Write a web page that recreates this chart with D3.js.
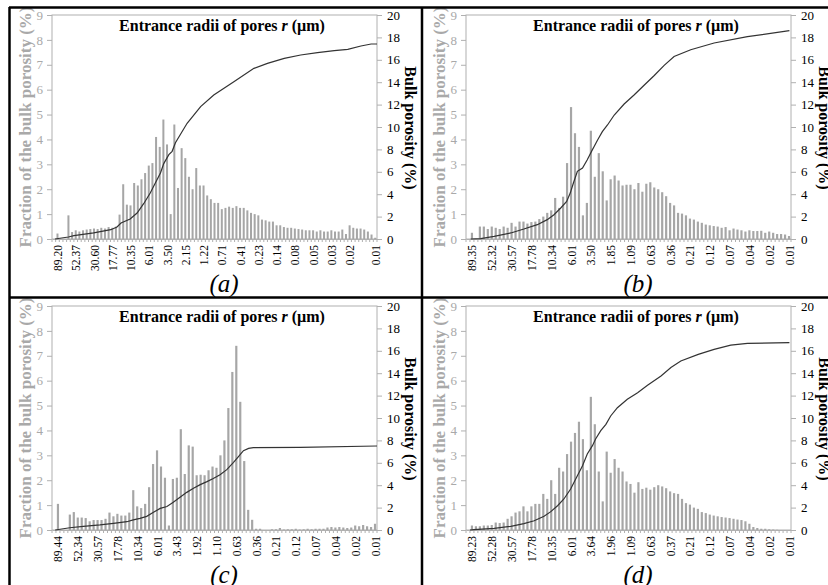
<!DOCTYPE html>
<html><head><meta charset="utf-8">
<script src="https://cdn.jsdelivr.net/npm/d3@7"></script>
<style>
body{margin:0;background:#fff}
svg{display:block}
</style>
</head><body>
<svg id="c" width="828" height="585"></svg>
<script>
// ---------------- DATA ----------------
const titleMain = "Entrance radii of pores ";
const titleVar = "r";
const titleUnit = " (µm)";
const leftTitle = "Fraction of the bulk porosity (%)";
const rightTitle = "Bulk porosity (%)";
const panelLabels = ["(a)", "(b)", "(c)", "(d)"];
const leftTicks = [0,1,2,3,4,5,6,7,8,9];
const rightTicks = [0,2,4,6,8,10,12,14,16,18,20];

const barsA = [0,0.22,0,0,0.95,0.28,0.35,0.3,0.35,0.38,0.4,0.42,0.4,0.45,0.42,0.48,0.45,0.5,0.98,2.2,
  1.38,1.35,2.25,2.15,2.4,2.65,2.95,3.05,4.1,3.7,4.8,3.8,1.0,4.6,2.05,3.65,3.25,2.5,2.0,2.85,
  2.15,2.15,1.75,1.6,1.45,1.45,1.2,1.25,1.3,1.25,1.32,1.25,1.25,1.15,1.05,1.0,0.95,0.78,0.75,0.7,
  0.7,0.55,0.55,0.48,0.45,0.45,0.42,0.4,0.38,0.35,0.35,0.35,0.3,0.35,0.3,0.3,0.35,0.3,0.3,0.38,
  0.2,0.55,0.45,0.42,0.42,0.38,0.3,0.18,0.05];
const tickIdxA = [1,6,11,16,21,26,31,36,41,46,51,56,61,66,71,76,81,88];
const tickLabA = ["89.20","52.37","30.60","17.77","10.35","6.01","3.50","2.15","1.22","0.71","0.41","0.23","0.14","0.08","0.05","0.03","0.02","0.01"];
const linePosA = [0.3,4,5.5,10.9,15.6,17.3,18.4,20.9,22.8,24.6,26.4,27.9,29.2,30.1,31.5,32.4,33.3,36.5,40.2,43.8,49.3,54.8,58.5,63.1,67.6,72.2,76.8,80.5,84.1,86.9,88.5];
const lineValA = [0,0.18,0.3,0.54,0.83,1.07,1.43,1.79,2.32,3.15,4.1,5.06,5.9,6.73,7.53,7.83,8.6,10.33,11.82,12.86,14.05,15.24,15.68,16.13,16.43,16.64,16.82,16.93,17.23,17.41,17.41];

const barsB = [0,0.25,0,0.5,0.5,0.4,0.5,0.45,0.4,0.5,0.45,0.65,0.5,0.7,0.7,0.62,0.68,0.7,0.8,0.9,
  1.05,1.15,1.65,1.25,1.7,3.05,5.3,4.25,3.7,0.95,1.45,4.35,2.5,3.45,2.72,1.55,2.4,2.55,2.35,2.15,
  2.18,2.18,2.0,2.25,1.9,2.22,2.28,2.07,2.0,1.88,1.72,1.45,1.35,1.05,1.02,0.95,0.82,0.78,0.7,0.65,
  0.58,0.55,0.52,0.5,0.45,0.48,0.35,0.42,0.38,0.35,0.3,0.35,0.32,0.32,0.33,0.25,0.3,0.25,0.2,0.2,
  0.18,0.12];
const tickIdxB = [1,6,11,16,21,26,31,36,41,46,51,56,61,66,71,76,81];
const tickLabB = ["89.35","52.32","30.57","17.78","10.34","6.01","3.50","1.85","1.09","0.63","0.36","0.21","0.12","0.07","0.04","0.02","0.01"];
const linePosB = [0.7,3.2,6.6,10.8,14.1,17.5,20,21.7,23.4,24.9,25.8,26.6,27.6,28.9,30.1,31.4,31.8,32.7,33.9,35.2,36.9,39.4,41.9,44.5,47,49.5,52,56.2,62.1,70.5,81.1];
const lineValB = [0,0.03,0.24,0.54,0.89,1.28,1.73,2.17,2.77,3.36,4.1,5.0,6.04,6.34,7.08,7.98,8.24,8.84,9.58,10.18,11.07,12.05,12.86,13.75,14.6,15.5,16.3,16.9,17.5,18.07,18.6];

const barsC = [0,1.05,0,0,0.62,0.72,0.5,0.5,0.48,0.35,0.4,0.4,0.4,0.45,0.7,0.55,0.65,0.58,0.58,0.7,
  1.6,0.95,0.88,1.05,1.72,2.65,3.2,2.55,2.1,0.18,2.05,2.1,4.05,2.25,3.4,3.35,2.2,2.22,2.2,2.4,
  2.55,2.5,3.0,3.6,4.9,6.35,7.4,5.15,2.77,0.81,0.41,0.05,0.05,0,0,0.03,0.03,0.08,0.02,0.03,
  0.03,0.05,0.02,0.03,0.05,0.03,0.05,0.05,0.05,0.1,0.12,0.1,0.12,0.1,0.08,0.1,0.18,0.15,0.2,0.15,
  0.12,0.25];
const tickIdxC = [1,6,11,16,21,26,31,36,41,46,51,56,61,66,71,76,81];
const tickLabC = ["89.44","52.34","30.57","17.78","10.34","6.01","3.43","1.92","1.10","0.63","0.36","0.21","0.12","0.07","0.04","0.02","0.01"];
const linePosC = [0.3,4,7.4,11.6,15,18.4,20,21.7,23.4,25.1,26.8,28.5,30.1,31.8,33.5,35.2,36.9,38.6,40.2,41.9,43.6,45.3,46.6,47.8,49.1,50.3,62.1,81.5];
const lineValC = [0,0.2,0.33,0.45,0.6,0.74,0.9,1.04,1.22,1.58,1.93,2.1,2.47,2.92,3.36,3.72,4.05,4.32,4.6,4.94,5.39,6.04,6.58,7.08,7.29,7.35,7.38,7.5];

const barsD = [0,0.18,0.15,0.15,0.18,0.18,0.2,0.3,0.28,0.3,0.45,0.55,0.7,0.75,0.95,0.75,0.95,1.05,1.05,1.45,
  1.25,2.0,1.45,2.5,2.35,3.05,3.55,3.9,4.35,3.65,2.4,5.35,4.25,2.35,1.15,3.15,2.3,2.85,2.5,2.35,
  1.95,1.85,1.5,1.92,1.65,1.7,1.62,1.72,1.8,1.75,1.68,1.55,1.48,1.45,1.25,1.08,1.02,0.9,0.85,0.72,
  0.68,0.62,0.58,0.55,0.52,0.5,0.48,0.45,0.42,0.4,0.35,0.25,0.12,0.08,0.05,0.05,0.03,0.02,0.01,0,
  0,0];
const tickIdxD = [1,6,11,16,21,26,31,36,41,46,51,56,61,66,71,76,81];
const tickLabD = ["89.23","52.28","30.57","17.78","10.35","6.01","3.64","1.96","1.09","0.63","0.37","0.21","0.12","0.07","0.04","0.02","0.01"];
const linePosD = [0.5,1.5,6.6,10.8,14.1,16.7,19.2,20.9,22.6,24.2,25.9,27.6,28.9,30.1,31.4,32.2,33.5,34.8,36,37.7,40.2,42.8,45.3,48.7,51.2,53.7,58.1,62.1,66.3,70.5,81.1];
const lineValD = [0,0.03,0.15,0.33,0.57,0.83,1.22,1.64,2.17,2.77,3.66,4.85,5.74,6.79,7.53,8.13,8.87,9.43,10.18,10.92,11.67,12.26,12.92,13.75,14.5,15.09,15.68,16.13,16.5,16.67,16.73];

// ---------------- DRAW ----------------
const FONT = '"Liberation Serif", "Times New Roman", Tinos, "DejaVu Serif", serif';
const panels = [
  {bars:barsA, ti:tickIdxA, tl:tickLabA, lp:linePosA, lv:lineValA, ox:0,   oy:0},
  {bars:barsB, ti:tickIdxB, tl:tickLabB, lp:linePosB, lv:lineValB, ox:414, oy:0},
  {bars:barsC, ti:tickIdxC, tl:tickLabC, lp:linePosC, lv:lineValC, ox:0,   oy:291},
  {bars:barsD, ti:tickIdxD, tl:tickLabD, lp:linePosD, lv:lineValD, ox:414, oy:291}
];
const svg = d3.select('#c').attr('font-family', FONT);
const P = {l:52, r:377, t:15, b:239};
const grayAxis = '#b0b0b0', grayText = '#a9a9a9', barColor = '#a6a6a6';

panels.forEach((p, k) => {
  const g = svg.append('g').attr('transform', `translate(${p.ox},${p.oy})`).attr('font-family', FONT);
  const n = p.bars.length;
  const x = d3.scaleBand().domain(d3.range(n)).range([P.l, P.r]).paddingInner(0.45).paddingOuter(0.225);
  const xl = d3.scaleLinear().domain([0, n]).range([P.l, P.r]);
  const yL = d3.scaleLinear().domain([0, 9]).range([P.b, P.t]);
  const yR = d3.scaleLinear().domain([0, 20]).range([P.b, P.t]);

  g.append('rect').attr('x', P.l).attr('y', P.t).attr('width', P.r - P.l).attr('height', P.b - P.t)
    .attr('fill', 'none').attr('stroke', grayAxis).attr('stroke-width', 1);

  g.append('g').selectAll('rect').data(p.bars).join('rect')
    .attr('x', (d, i) => x(i)).attr('width', x.bandwidth())
    .attr('y', d => yL(d)).attr('height', d => yL(0) - yL(d))
    .attr('fill', barColor);

  const ax = g.append('g').attr('transform', `translate(${P.l},0)`)
    .call(d3.axisLeft(yL).tickValues(leftTicks).tickSize(5).tickPadding(4).tickFormat(d3.format('d')));
  ax.attr('font-family', FONT).attr('font-size', 13);
  ax.select('.domain').remove();
  ax.selectAll('line').attr('stroke', grayAxis);
  ax.selectAll('text').attr('fill', grayText);

  const ar = g.append('g').attr('transform', `translate(${P.r},0)`)
    .call(d3.axisRight(yR).tickValues(rightTicks).tickSize(5).tickPadding(5).tickFormat(d3.format('d')));
  ar.attr('font-family', FONT).attr('font-size', 13);
  ar.select('.domain').remove();
  ar.selectAll('line').attr('stroke', grayAxis);
  ar.selectAll('text').attr('fill', '#000');

  const ab = g.append('g').attr('transform', `translate(0,${P.b})`)
    .call(d3.axisBottom(xl).tickValues(p.ti.map(i => i + 0.5)).tickSize(0).tickPadding(0)
      .tickFormat((d, i) => p.tl[i]));
  ab.attr('font-family', FONT).attr('font-size', 11.5);
  ab.select('.domain').attr('stroke', grayAxis);
  ab.selectAll('text')
    .attr('transform', 'rotate(-90)').attr('text-anchor', 'end')
    .attr('x', -6).attr('y', 0).attr('dy', '0.35em').attr('fill', '#000');
  g.append('g').selectAll('line').data(d3.range(0, n + 1, 1)).join('line')
    .attr('x1', d => xl(d)).attr('x2', d => xl(d)).attr('y1', P.b).attr('y2', P.b + 3)
    .attr('stroke', grayAxis);

  const pts = p.lp.map((d, i) => [xl(d + 0.5), yR(p.lv[i])]);
  g.append('path').attr('d', d3.line()(pts)).attr('fill', 'none')
    .attr('stroke', '#333').attr('stroke-width', 1.2);

  const t = g.append('text').attr('x', 222).attr('y', 31).attr('text-anchor', 'middle')
    .attr('font-size', 16).attr('font-weight', 'bold');
  t.append('tspan').text(titleMain);
  t.append('tspan').attr('font-style', 'italic').text(titleVar);
  t.append('tspan').text(titleUnit);

  g.append('text').attr('transform', 'translate(25,127) rotate(-90)').attr('text-anchor', 'middle')
    .attr('dominant-baseline', 'central').attr('fill', grayText)
    .attr('font-size', 17).attr('font-weight', 'bold').text(leftTitle);
  g.append('text').attr('transform', 'translate(410,128) rotate(90)').attr('text-anchor', 'middle')
    .attr('dominant-baseline', 'central').attr('fill', '#000')
    .attr('font-size', 16).attr('font-weight', 'bold').text(rightTitle);

  g.append('text').attr('x', 224).attr('y', 292).attr('text-anchor', 'middle')
    .attr('font-size', 25).attr('font-style', 'italic').text(panelLabels[k]);
});

const bl = svg.append('g').attr('stroke', '#000').attr('stroke-width', 2.5);
bl.append('line').attr('x1', 9).attr('x2', 828).attr('y1', 7.5).attr('y2', 7.5);
bl.append('line').attr('x1', 9.5).attr('x2', 9.5).attr('y1', 7).attr('y2', 585);
bl.append('line').attr('x1', 422).attr('x2', 422).attr('y1', 7).attr('y2', 585);
bl.append('line').attr('x1', 9).attr('x2', 828).attr('y1', 297.5).attr('y2', 297.5);
</script>
</body></html>
